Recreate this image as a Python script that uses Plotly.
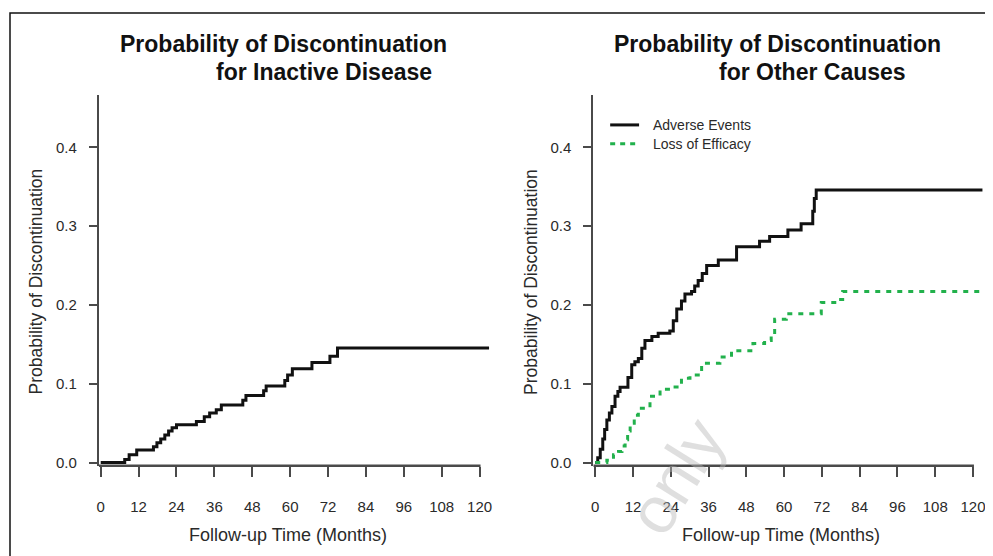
import plotly.graph_objects as go

W, H = 993, 556
OFF = 8  # default page body margin

# ---------------- data ----------------
months_inactive = [0, 7.6, 9.0, 11.4, 16.7, 17.8, 19.0, 20.3, 21.5, 22.6, 24.0, 30.3, 32.8, 34.5,
                   36.6, 38.2, 45.0, 46.0, 51.6, 52.4, 58.3, 59.2, 60.7, 66.9, 72.6, 75.0, 123.0]
prob_inactive = [0, 0.004, 0.010, 0.016, 0.020, 0.025, 0.030, 0.035, 0.040, 0.044, 0.048, 0.052, 0.058, 0.063,
                 0.067, 0.073, 0.079, 0.085, 0.091, 0.097, 0.104, 0.111, 0.119, 0.127, 0.135, 0.1455, 0.1455]

months_ae = [0, 0.8, 1.6, 2.4, 3.0, 3.7, 4.5, 5.3, 6.3, 7.2, 7.9, 10.4, 11.6, 12.6, 13.7, 14.8, 15.8,
             18.0, 20.0, 23.7, 24.8, 25.9, 27.4, 28.5, 30.6, 31.6, 32.7, 34.0, 35.4, 39.1, 44.9, 52.2,
             55.4, 61.2, 65.4, 69.1, 69.6, 70.2, 123.0]
prob_ae = [0, 0.006, 0.017, 0.030, 0.042, 0.054, 0.063, 0.071, 0.084, 0.090, 0.0955, 0.108, 0.124, 0.128,
           0.132, 0.145, 0.155, 0.160, 0.164, 0.167, 0.180, 0.195, 0.205, 0.214, 0.217, 0.224, 0.231, 0.240,
           0.250, 0.257, 0.274, 0.281, 0.287, 0.295, 0.303, 0.319, 0.335, 0.346, 0.346]

months_le = [0, 3.7, 5.8, 7.4, 8.5, 9.5, 10.3, 11.1, 12.4, 13.7, 17.4, 20.6, 24.3, 27.4, 30.1, 33.8, 39.6,
             43.3, 50.1, 53.8, 55.9, 57.0, 60.7, 71.8, 76.6, 78.6, 123.0]
prob_le = [0, 0.003, 0.010, 0.014, 0.021, 0.029, 0.040, 0.050, 0.060, 0.069, 0.084, 0.093, 0.096, 0.107,
           0.111, 0.126, 0.134, 0.142, 0.151, 0.155, 0.161, 0.182, 0.189, 0.203, 0.207, 0.217, 0.217]

x_ticks = [0, 12, 24, 36, 48, 60, 72, 84, 96, 108, 120]
y_ticks = [0.0, 0.1, 0.2, 0.3, 0.4]
y_tick_text = ["0.0", "0.1", "0.2", "0.3", "0.4"]

titles = [("Probability of Discontinuation", "for Inactive Disease"),
          ("Probability of Discontinuation", "for Other Causes")]
y_title = "Probability of Discontinuation"
x_title = "Follow-up Time (Months)"
legend_names = ["Adverse Events", "Loss of Efficacy"]

# ---------------- layout helpers ----------------
FONT = "Liberation Sans, Arial, Helvetica, sans-serif"
AXC = "#4a4a4a"
TXT = "#2a2a2a"
BLACK = "#111111"
GREEN = "#22b14c"
FW, FH = W - OFF, H - OFF

def px(x):
    return (x - OFF) / FW

def py(y):
    return 1 - (y - OFF) / FH

X_RANGE = [-0.6, 123.5]
Y_RANGE = [-0.004, 0.467]

fig = go.Figure()

fig.add_trace(go.Scatter(x=months_inactive, y=prob_inactive, mode="lines",
                         line=dict(color=BLACK, width=3, shape="hv"),
                         showlegend=False, xaxis="x", yaxis="y"))
fig.add_trace(go.Scatter(x=months_ae, y=prob_ae, mode="lines", name=legend_names[0],
                         line=dict(color=BLACK, width=3, shape="hv"),
                         showlegend=False, xaxis="x2", yaxis="y2"))
fig.add_trace(go.Scatter(x=months_le, y=prob_le, mode="lines", name=legend_names[1],
                         line=dict(color=GREEN, width=3, shape="hv", dash="5px,6px"),
                         showlegend=False, xaxis="x2", yaxis="y2"))

ydom = [py(469.9), py(95.4)]

def xaxis(dom, anchor):
    return dict(domain=dom, range=X_RANGE, anchor=anchor, showline=False, showgrid=False,
                zeroline=False, tickvals=x_ticks, ticks="outside", ticklen=10, tickwidth=2,
                tickcolor=AXC, ticklabelstandoff=17,
                tickfont=dict(family=FONT, size=15, color=TXT), fixedrange=True)

def yaxis(anchor):
    return dict(domain=ydom, range=Y_RANGE, anchor=anchor, showline=True, linecolor=AXC,
                linewidth=2, showgrid=False, zeroline=False, tickvals=y_ticks,
                ticktext=y_tick_text, ticks="outside", ticklen=8, tickwidth=2, tickcolor=AXC,
                ticklabelstandoff=9, tickfont=dict(family=FONT, size=15, color=TXT),
                fixedrange=True)

annotations = []
shapes = []

panels = [("x", "y", 97.1, 490.1, 35, 287), ("x2", "y2", 593.1, 985.0, 531, 781)]
title_pos = [((282.5, 44), (323, 73)), ((777.5, 44), (813, 73))]

for i, (xa, ya, left, right, ytx, xtx) in enumerate(panels):
    (l1x, l1y), (l2x, l2y) = title_pos[i]
    annotations.append(dict(text="<b>%s</b>" % titles[i][0], x=px(l1x), y=py(l1y), xref="paper",
                            yref="paper", showarrow=False, xanchor="center", yanchor="middle",
                            font=dict(family=FONT, size=23, color=BLACK)))
    annotations.append(dict(text="<b>%s</b>" % titles[i][1], x=px(l2x), y=py(l2y), xref="paper",
                            yref="paper", showarrow=False, xanchor="center", yanchor="middle",
                            font=dict(family=FONT, size=23, color=BLACK)))
    annotations.append(dict(text=y_title, x=px(ytx), y=py(284), xref="paper", yref="paper",
                            showarrow=False, textangle=-90, xanchor="center", yanchor="middle",
                            font=dict(family=FONT, size=17.5, color=TXT)))
    annotations.append(dict(text=x_title, x=px(xtx), y=py(540), xref="paper", yref="paper",
                            showarrow=False, xanchor="center", yanchor="middle",
                            font=dict(family=FONT, size=18, color=TXT)))
    # bottom axis line spanning from the y axis to the last tick
    shapes.append(dict(type="line", xref=xa, yref=ya + " domain", x0=X_RANGE[0], x1=120.3,
                       y0=0, y1=0, line=dict(color=AXC, width=2.5)))

# legend (drawn manually to match spacing)
legend_rows = [(legend_names[0], 126, dict(color=BLACK, width=3)),
               (legend_names[1], 145, dict(color=GREEN, width=3, dash="5px,5px"))]
for name, yy, ln in legend_rows:
    shapes.append(dict(type="line", xref="paper", yref="paper", x0=px(610), x1=px(639),
                       y0=py(yy), y1=py(yy), line=ln))
    annotations.append(dict(text=name, x=px(651), y=py(yy), xref="paper", yref="paper",
                            showarrow=False, xanchor="left", yanchor="middle",
                            font=dict(family=FONT, size=14, color=TXT)))

# watermark
annotations.append(dict(text="only", x=px(676), y=py(480), xref="paper", yref="paper",
                        showarrow=False, textangle=-58, xanchor="center", yanchor="middle",
                        font=dict(family=FONT, size=66, color="rgba(185,185,185,0.45)")))

# frame
shapes.append(dict(type="rect", xref="paper", yref="paper", x0=px(8), x1=1.05, y0=-0.05,
                   y1=py(13), line=dict(color=BLACK, width=1.5), layer="below"))

fig.update_layout(
    width=FW, height=FH,
    margin=dict(l=0, r=0, t=0, b=0),
    paper_bgcolor="white", plot_bgcolor="white",
    xaxis=xaxis([px(97.1), px(490.1)], "y"),
    yaxis=yaxis("x"),
    xaxis2=xaxis([px(593.1), px(985.0)], "y2"),
    yaxis2=yaxis("x2"),
    annotations=annotations,
    shapes=shapes,
    showlegend=False,
)

fig.write_html("out.html")
